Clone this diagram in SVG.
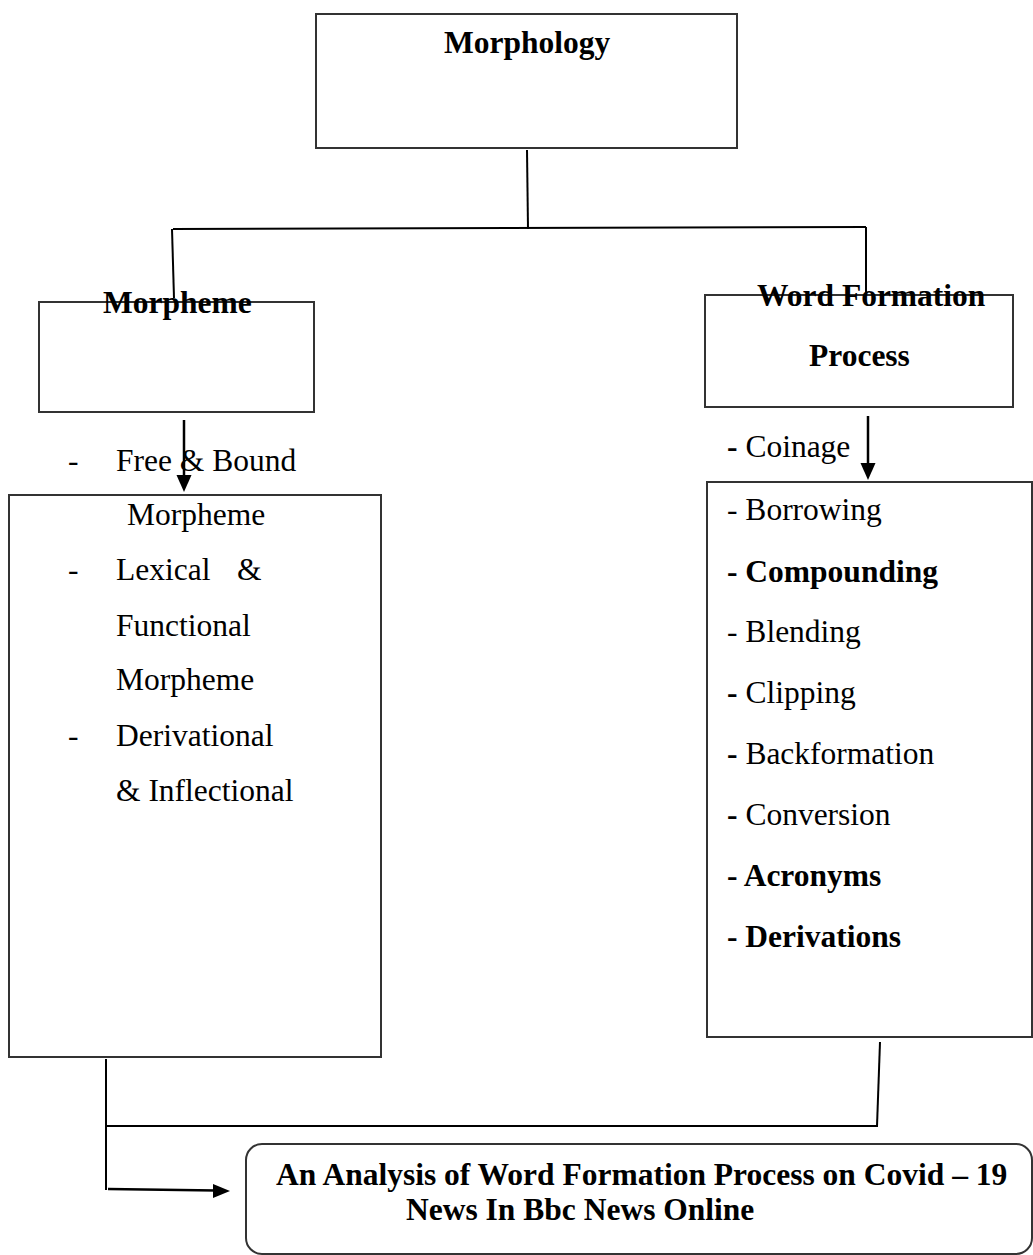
<svg xmlns="http://www.w3.org/2000/svg" width="1033" height="1255" viewBox="0 0 1033 1255">
<defs>
<style>
.box{fill:#fff;stroke:#333;stroke-width:2}
.ln{fill:none;stroke:#000;stroke-width:2}
.ar{fill:none;stroke:#000;stroke-width:2.5}
.head{fill:#000}
text{font-family:"Liberation Serif","Times New Roman",serif;font-size:31.5px;fill:#000}
.b{font-weight:bold}
</style>
</defs>
<rect width="1033" height="1255" fill="#fff"/>
<g id="connectors">
<line class="ln" x1="527" y1="150" x2="528" y2="229"/>
<line class="ln" x1="173" y1="229" x2="866" y2="227"/>
<line class="ln" x1="172" y1="229" x2="174" y2="298"/>
<line class="ln" x1="866" y1="227" x2="866" y2="294"/>
<line class="ar" x1="184" y1="420" x2="184" y2="478"/>
<polygon class="head" points="176.5,475 191.5,475 184,492"/>
<line class="ar" x1="868" y1="416" x2="868" y2="466"/>
<polygon class="head" points="860.5,463 875.5,463 868,480"/>
<line class="ln" x1="106" y1="1059" x2="106" y2="1190"/>
<line class="ln" x1="106" y1="1126" x2="878" y2="1126"/>
<line class="ln" x1="880" y1="1042" x2="877" y2="1126"/>
<line class="ar" x1="108" y1="1189" x2="216" y2="1190.5"/>
<polygon class="head" points="213,1184 213,1198 230,1191"/>
</g>
<g id="morphology">
<rect class="box" x="316" y="14" width="421" height="134"/>
<text class="b" x="444" y="53">Morphology</text>
</g>
<g id="morpheme">
<rect class="box" x="39" y="302" width="275" height="110"/>
<text class="b" x="103" y="313">Morpheme</text>
</g>
<g id="word-formation">
<rect class="box" x="705" y="295" width="308" height="112"/>
<text class="b" x="757" y="306">Word Formation</text>
<text class="b" x="809" y="366">Process</text>
</g>
<g id="morpheme-types">
<text x="68" y="471">-</text>
<text x="116" y="471">Free &amp; Bound</text>
<rect class="box" x="9" y="495" width="372" height="562" style="fill:none"/>
<text x="127" y="525">Morpheme</text>
<text x="68" y="580">-</text>
<text x="116" y="580">Lexical</text>
<text x="237" y="580">&amp;</text>
<text x="116" y="636">Functional</text>
<text x="116" y="690">Morpheme</text>
<text x="68" y="746">-</text>
<text x="116" y="746">Derivational</text>
<text x="116" y="801">&amp; Inflectional</text>
</g>
<g id="wf-processes">
<text x="727" y="457"><tspan class="b">-</tspan> Coinage</text>
<rect class="box" x="707" y="482" width="325" height="555"/>
<text x="727" y="520">- Borrowing</text>
<text class="b" x="727" y="582">- Compounding</text>
<text x="727" y="642">- Blending</text>
<text x="727" y="703"><tspan class="b">-</tspan> Clipping</text>
<text x="727" y="764"><tspan class="b">-</tspan> Backformation</text>
<text x="727" y="825"><tspan class="b">-</tspan> Conversion</text>
<text class="b" x="727" y="886">- Acronyms</text>
<text class="b" x="727" y="947">- Derivations</text>
</g>
<g id="analysis">
<rect class="box" x="246" y="1144" width="786" height="110" rx="16" ry="16"/>
<text class="b" x="276" y="1185" style="font-size:31.5px">An Analysis of Word Formation Process on Covid – 19</text>
<text class="b" x="406" y="1220" style="font-size:31.5px">News In Bbc News Online</text>
</g>
</svg>
